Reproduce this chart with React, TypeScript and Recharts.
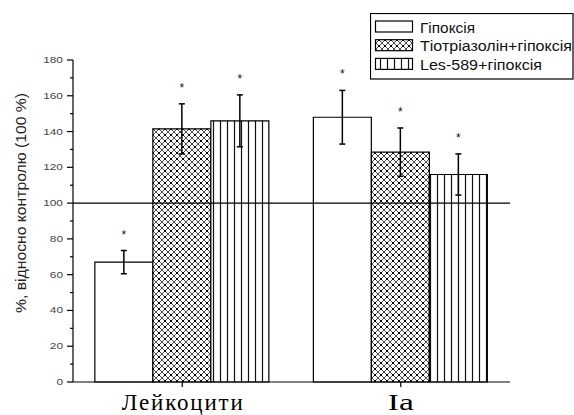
import { Bar, BarChart, ErrorBar, LabelList, Legend, ReferenceLine, XAxis, YAxis } from "recharts";

const categories = ["Лейкоцити", "Ia"];
const hypoxia = [67, 148];
const hypoxiaErr = [6.5, 15];
const thiotriazoline = [141.5, 128.5];
const thiotriazolineErr = [14, 13.5];
const les589 = [146, 116];
const les589Err = [14.5, 11.5];
const yTicks = [0, 10, 20, 30, 40, 50, 60, 70, 80, 90, 100, 110, 120, 130, 140, 150, 160, 170, 180];

const seriesNames = ["Гіпоксія", "Тіотріазолін+гіпоксія", "Les-589+гіпоксія"];
const seriesFills = ["#ffffff", "url(#crossHatch)", "url(#vStripes)"];

// the source picture is stretched sideways, so texts get a fixed drawn width
const categoryTextWidths = [121, 26];
const legendTextWidths = [55, 152, 122];

const data = categories.map((name, i) => ({
  name,
  hyp: hypoxia[i],
  hypErr: hypoxiaErr[i],
  thio: thiotriazoline[i],
  thioErr: thiotriazolineErr[i],
  les: les589[i],
  lesErr: les589Err[i],
}));

const font = "'Liberation Sans', Arial, sans-serif";
const serif = "'Liberation Serif', 'Times New Roman', serif";

// star above the error bar, placed from the bar geometry
function starLabel(errs: number[]) {
  return (props: any) => {
    const { x, y, width, height, value, index } = props;
    const pxPerUnit = height / value;
    const top = y - errs[index] * pxPerUnit;
    return (
      <text x={x + width / 2} y={top - 12} textAnchor="middle" fontSize={12} fontFamily={font} fill="#111">
        *
      </text>
    );
  };
}

function YTick(props: any) {
  const { y, payload } = props;
  const axisX = 73;
  const major = payload.value % 20 === 0;
  const label = String(payload.value);
  return (
    <g>
      <line x1={major ? axisX - 6 : axisX - 3} x2={axisX} y1={y} y2={y} stroke="#000" strokeWidth={1.2} />
      {major && (
        <text
          x={axisX - 10}
          y={y}
          dy={3}
          textAnchor="end"
          fontSize={9}
          textLength={label.length * 6.6}
          lengthAdjust="spacingAndGlyphs"
          fontFamily={font}
          fill="#444"
        >
          {label}
        </text>
      )}
    </g>
  );
}

function XTick(props: any) {
  const { x, y, payload, index } = props;
  return (
    <text
      x={x}
      y={y}
      dy={16}
      textAnchor="middle"
      fontSize={23}
      fontFamily={serif}
      fill="#000"
      textLength={categoryTextWidths[index]}
      lengthAdjust={index === 0 ? "spacing" : "spacingAndGlyphs"}
    >
      {payload.value}
    </text>
  );
}

function LegendBox() {
  return (
    <svg width={204} height={67} style={{ display: "block" }}>
      <rect x={0.5} y={0.5} width={202.5} height={65.5} fill="#fff" stroke="#000" strokeWidth={1.2} />
      {seriesNames.map((n, i) => (
        <g key={n}>
          <rect x={5.5} y={8 + i * 18.7} width={37} height={11} fill={seriesFills[i]} stroke="#000" strokeWidth={1.2} />
          <text
            x={50}
            y={19.5 + i * 18.7}
            fontSize={14}
            fontFamily={font}
            fill="#111"
            textLength={legendTextWidths[i]}
            lengthAdjust="spacingAndGlyphs"
          >
            {n}
          </text>
        </g>
      ))}
    </svg>
  );
}

export default function App() {
  return (
    <div style={{ position: "absolute", left: 0, top: 0 }}>
      <BarChart
        width={574}
        height={415}
        data={data}
        margin={{ top: 60, right: 64, bottom: 0, left: 0 }}
        barCategoryGap="10%"
        barGap={0}
      >
        <defs>
          <pattern id="crossHatch" patternUnits="userSpaceOnUse" width={6} height={6}>
            <rect width={6} height={6} fill="#fff" />
            <path d="M0,0 L6,6 M6,0 L0,6" stroke="#222" strokeWidth={0.8} />
            <rect x={2} y={2} width={2} height={2} fill="#000" />
          </pattern>
          <pattern id="vStripes" patternUnits="userSpaceOnUse" width={7} height={7}>
            <rect width={7} height={7} fill="#fff" />
            <line x1={3.5} x2={3.5} y1={0} y2={7} stroke="#111" strokeWidth={1.2} />
          </pattern>
        </defs>
        <XAxis
          dataKey="name"
          height={33}
          axisLine={{ stroke: "#000", strokeWidth: 1.2 }}
          tickLine={{ stroke: "#000", strokeWidth: 1.2 }}
          tickSize={5}
          tickMargin={7}
          tick={<XTick />}
        />
        <YAxis
          width={73}
          domain={[0, 180]}
          ticks={yTicks}
          interval={0}
          axisLine={{ stroke: "#000", strokeWidth: 1.2 }}
          tickLine={false}
          tick={<YTick />}
          label={{
            content: () => {
              const cx = 21;
              const cy = 203;
              return (
                <text
                  x={cx}
                  y={cy}
                  transform={`rotate(-90, ${cx}, ${cy})`}
                  textAnchor="middle"
                  dominantBaseline="central"
                  fontSize={14}
                  textLength={220}
                  lengthAdjust="spacingAndGlyphs"
                  fontFamily={font}
                  fill="#222"
                >
                  %, відносно контролю (100 %)
                </text>
              );
            },
          }}
        />
        <Legend
          layout="vertical"
          align="center"
          verticalAlign="middle"
          wrapperStyle={{ left: 370, top: 13, width: 204, height: 67 }}
          content={() => <LegendBox />}
        />
        <Bar dataKey="hyp" name={seriesNames[0]} fill={seriesFills[0]} stroke="#000" strokeWidth={1.2} isAnimationActive={false}>
          <ErrorBar dataKey="hypErr" direction="y" width={3} stroke="#000" strokeWidth={1.5} />
          <LabelList dataKey="hyp" content={starLabel(hypoxiaErr)} />
        </Bar>
        <Bar dataKey="thio" name={seriesNames[1]} fill={seriesFills[1]} stroke="#000" strokeWidth={1.2} isAnimationActive={false}>
          <ErrorBar dataKey="thioErr" direction="y" width={3} stroke="#000" strokeWidth={1.5} />
          <LabelList dataKey="thio" content={starLabel(thiotriazolineErr)} />
        </Bar>
        <Bar dataKey="les" name={seriesNames[2]} fill={seriesFills[2]} stroke="#000" strokeWidth={1.2} isAnimationActive={false}>
          <ErrorBar dataKey="lesErr" direction="y" width={3} stroke="#000" strokeWidth={1.5} />
          <LabelList dataKey="les" content={starLabel(les589Err)} />
        </Bar>
        <ReferenceLine y={100} stroke="#000" strokeWidth={1.2} />
      </BarChart>
    </div>
  );
}
